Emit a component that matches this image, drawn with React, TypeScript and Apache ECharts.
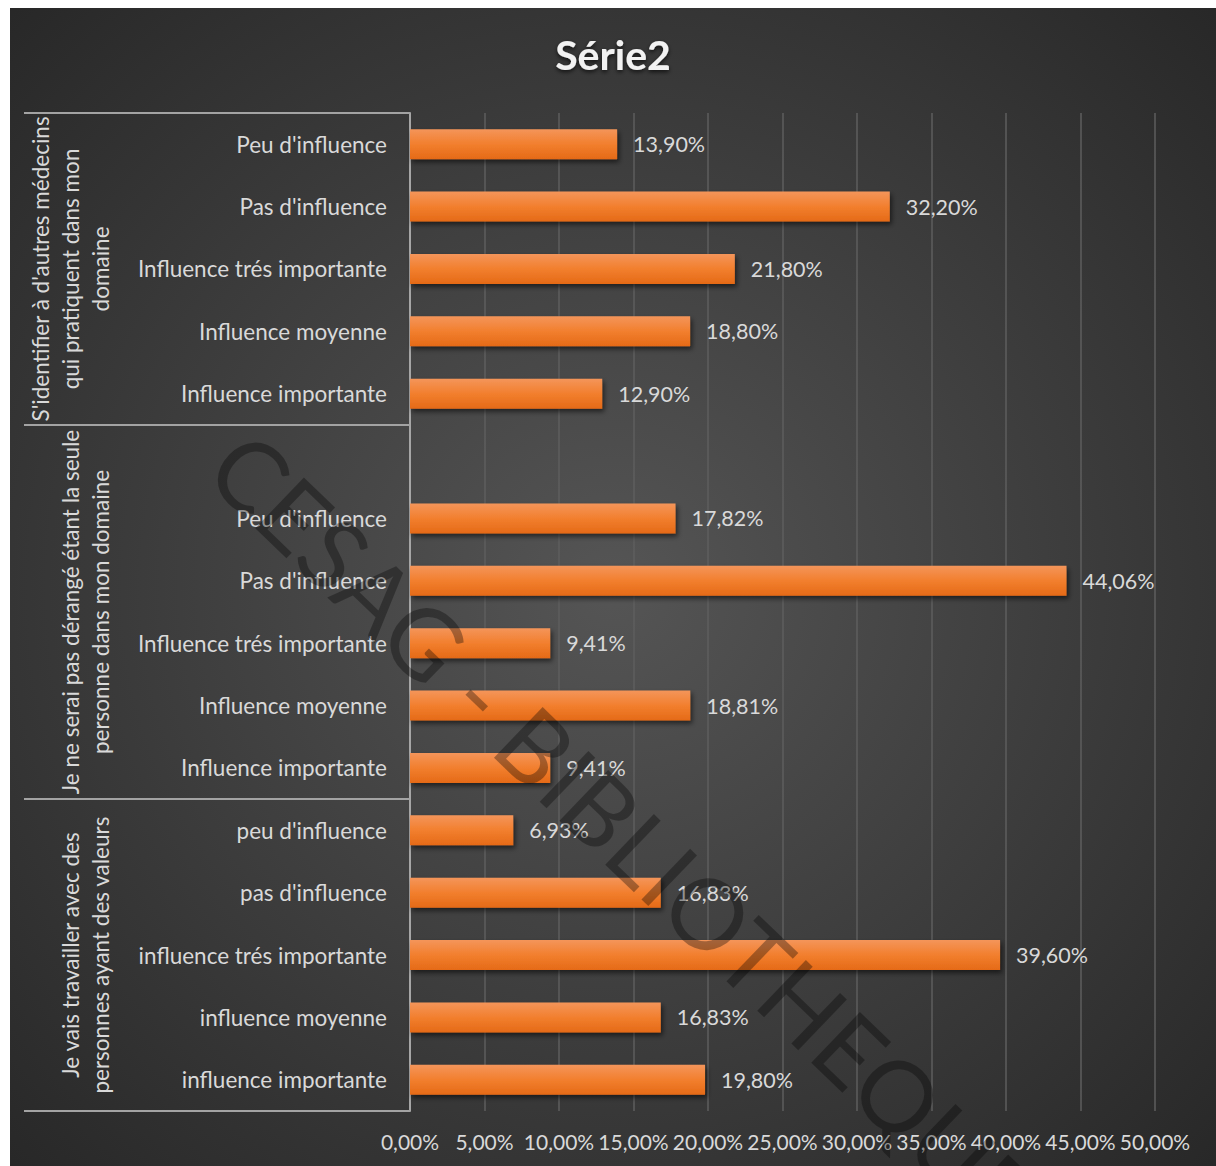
import React, { useEffect, useRef } from "react";
import * as echarts from "echarts";

const categoryLabels: string[] = [
  "Peu d'influence",
  "Pas d'influence",
  "Influence trés importante",
  "Influence moyenne",
  "Influence importante",
  "",
  "Peu d'influence",
  "Pas d'influence",
  "Influence trés importante",
  "Influence moyenne",
  "Influence importante",
  "peu d'influence",
  "pas d'influence",
  "influence trés importante",
  "influence moyenne",
  "influence importante",
];

const values: (number | null)[] = [
  13.9, 32.2, 21.8, 18.8, 12.9,
  null, 17.82, 44.06, 9.41, 18.81, 9.41,
  6.93, 16.83, 39.6, 16.83, 19.8,
];

const groupLabels: string[] = [
  "S'identifier à d'autres médecins\nqui pratiquent dans mon\ndomaine",
  "Je ne serai pas dérangé étant la seule\npersonne dans mon domaine",
  "Je vais travailler avec des\npersonnes ayant des valeurs",
];
// category index boundaries of the groups
const groupBounds: number[] = [0, 5, 11, 16];

const titleText = "Série2";
const watermarkText = "CESAG - BIBLIOTHEQUE";

const W = 1206;
const H = 1158;
const GRID_LEFT = 400;
const GRID_RIGHT = 61;
const GRID_TOP = 105;
const GRID_BOTTOM = 55;
const FONT = "Lato, 'Open Sans', sans-serif";

const fmt = (v: number) => v.toFixed(2).replace(".", ",") + "%";

export default function App() {
  const ref = useRef<HTMLDivElement>(null);
  useEffect(() => {
    if (!ref.current) return;
    const chart = echarts.init(ref.current, undefined, { renderer: "svg" });
    const plotH = H - GRID_TOP - GRID_BOTTOM;
    const slot = plotH / categoryLabels.length;
    const graphics: any[] = [];
    groupBounds.forEach((b) => {
      const y = Math.round(GRID_TOP + b * slot);
      graphics.push({
        type: "line",
        shape: { x1: 14, y1: y, x2: GRID_LEFT, y2: y },
        style: { stroke: "#a3a3a3", lineWidth: 2 },
        z: 10,
      });
    });
    groupLabels.forEach((g, i) => {
      const yc = GRID_TOP + ((groupBounds[i] + groupBounds[i + 1]) / 2) * slot;
      graphics.push({
        type: "text",
        x: 105,
        y: yc,
        rotation: Math.PI / 2,
        style: {
          text: g,
          fill: "#d9d9d9",
          font: `22.5px ${FONT}`,
          align: "center",
          verticalAlign: "bottom",
          lineHeight: 30,
        },
        z: 10,
      });
    });
    graphics.push({
      type: "text",
      x: 614,
      y: 822,
      rotation: -0.766,
      style: {
        text: watermarkText,
        fill: "rgba(0,0,0,0.33)",
        font: `400 98px ${FONT}`,
        align: "center",
        verticalAlign: "middle",
      },
      z: 100,
      silent: true,
    });

    chart.setOption({
      animation: false,
      backgroundColor: {
        type: "radial",
        x: 0.5,
        y: 0.5,
        r: 0.75,
        colorStops: [
          { offset: 0, color: "#555555" },
          { offset: 1, color: "#252525" },
        ],
      },
      title: {
        text: titleText,
        left: "center",
        top: 21,
        textStyle: {
          fontSize: 41,
          fontWeight: "bold",
          color: "#f2f2f2",
          fontFamily: FONT,
          textShadowColor: "rgba(0,0,0,0.7)",
          textShadowBlur: 4,
          textShadowOffsetY: 2,
        },
      },
      grid: {
        left: GRID_LEFT,
        right: GRID_RIGHT,
        top: GRID_TOP,
        bottom: GRID_BOTTOM,
        containLabel: false,
      },
      xAxis: {
        type: "value",
        min: 0,
        max: 50,
        interval: 5,
        axisLine: { show: false },
        axisTick: { show: false },
        splitLine: { lineStyle: { color: "#5e5e5e", width: 1.5 } },
        axisLabel: {
          formatter: (v: number) => fmt(v),
          color: "#d9d9d9",
          fontSize: 21,
          fontFamily: FONT,
          margin: 20,
          hideOverlap: false,
        },
      },
      yAxis: {
        type: "category",
        inverse: true,
        data: categoryLabels.map((_, i) => String(i)),
        axisTick: { show: false },
        axisLine: { lineStyle: { color: "#a6a6a6", width: 2 } },
        axisLabel: {
          formatter: (v: string) => categoryLabels[Number(v)],
          color: "#d9d9d9",
          fontSize: 22.5,
          fontFamily: FONT,
          margin: 23,
          interval: 0,
        },
      },
      series: [
        {
          type: "bar",
          data: values,
          barWidth: 30,
          itemStyle: {
            color: new echarts.graphic.LinearGradient(0, 0, 0, 1, [
              { offset: 0, color: "#f4955a" },
              { offset: 0.5, color: "#f27f2e" },
              { offset: 1, color: "#e56a17" },
            ]),
            shadowColor: "rgba(0,0,0,0.55)",
            shadowBlur: 5,
            shadowOffsetX: 2,
            shadowOffsetY: 3,
          },
          label: {
            show: true,
            position: "right",
            distance: 16,
            formatter: (p: any) => (p.value == null ? "" : fmt(p.value)),
            color: "#d9d9d9",
            fontSize: 21.5,
            fontFamily: FONT,
          },
        },
      ],
      graphic: graphics,
    });
    return () => chart.dispose();
  }, []);
  return (
    <div
      ref={ref}
      style={{ position: "absolute", left: 10, top: 8, width: W, height: H }}
    />
  );
}
